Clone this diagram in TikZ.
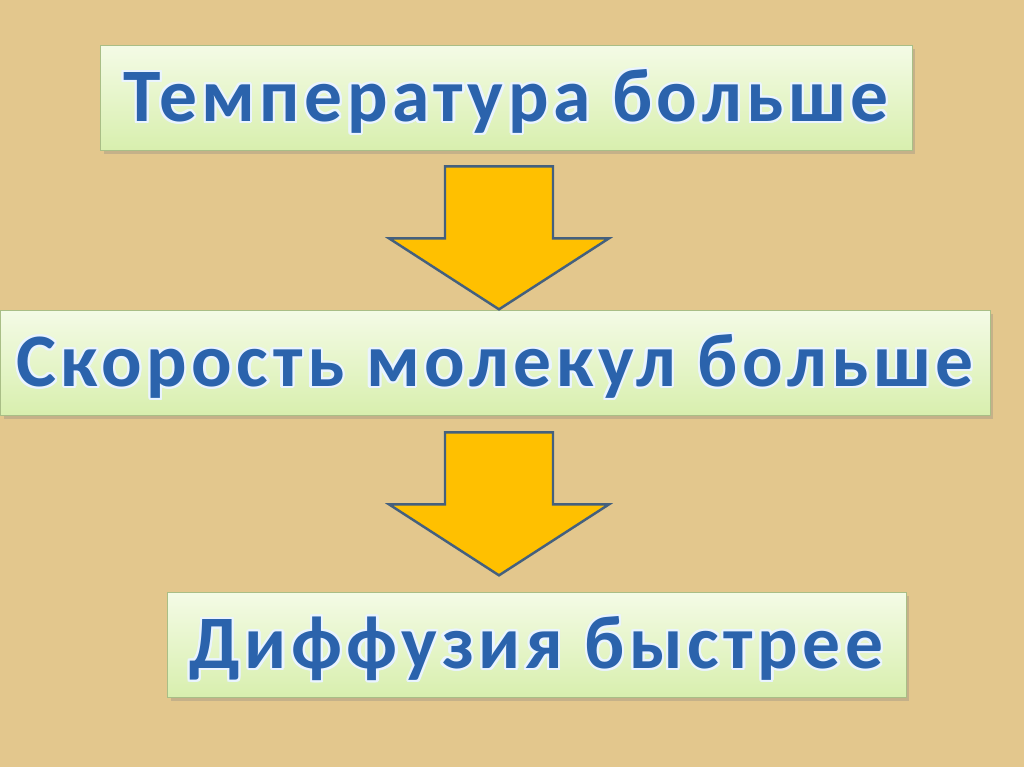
\documentclass[tikz,border=0pt]{standalone}
\usepackage{fontspec}
\setmainfont{Carlito}
\newfontfamily\slidefont[LetterSpace=6]{Carlito}
\usepackage{contour}
\usetikzlibrary{calc,shadows}
\definecolor{slidetan}{HTML}{E3C78D}
\definecolor{boxtop}{HTML}{F4FBE6}
\definecolor{boxbottom}{HTML}{D8EFAE}
\definecolor{boxline}{HTML}{A9BE86}
\definecolor{titleblue}{HTML}{2B63AC}
\definecolor{glowline}{HTML}{EAF4FF}
\definecolor{arrowfill}{HTML}{FFC000}
\definecolor{arrowline}{HTML}{44607E}

\contourlength{1.3pt}
\newcommand{\glowtext}[1]{{\color{titleblue}\contour{glowline}{#1}}}

\begin{document}
\begin{tikzpicture}[
  x=0.02cm, y=-0.02cm,
  slidebox/.style={draw=boxline, thin, top color=boxtop, bottom color=boxbottom,
    minimum height=2.1cm, inner sep=0pt, text height=27.2pt, text depth=0pt,
    font=\slidefont\bfseries\fontsize{43}{52}\selectfont,
    drop shadow={opacity=0.3, shadow xshift=2pt, shadow yshift=-2pt}},
  arrowshape/.style={draw=arrowline, line width=1.4pt, fill=arrowfill, line join=miter},
  fatarrow/.pic={
    \draw[arrowshape] (-54,0) -- (54,0) -- (54,72) -- (110,72) -- (0,143)
      -- (-110,72) -- (-54,72) -- cycle;
  }
]
\fill[slidetan] (0,0) rectangle (1024,767);
\useasboundingbox (0,0) rectangle (1024,767);

\node[slidebox, minimum width=16.24cm] (temp) at (506,97.5) {\glowtext{Температура больше}};
\node[slidebox, minimum width=19.8cm] (speed) at (495,362.5) {\glowtext{Скорость молекул больше}};
\node[slidebox, minimum width=14.78cm] (diff) at (536.5,644.5) {\glowtext{Диффузия быстрее}};

\coordinate (axis) at (499,0);
\pic at ($(temp.south -| axis)+(0,16)$) {fatarrow};
\pic at ($(speed.south -| axis)+(0,17)$) {fatarrow};
\end{tikzpicture}
\end{document}
